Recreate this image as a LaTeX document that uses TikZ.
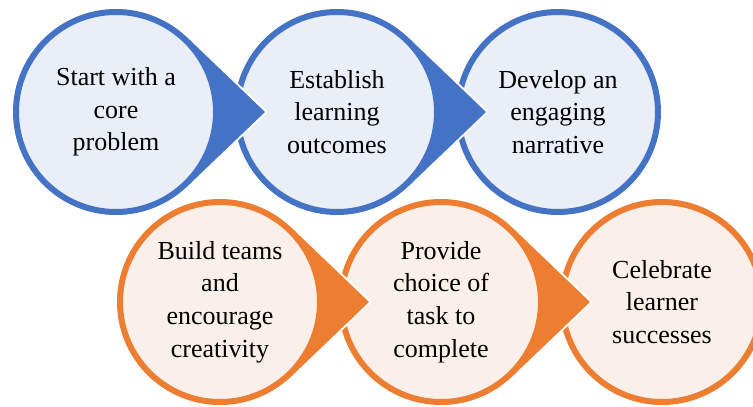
\documentclass[tikz,border=0pt]{standalone}
\usepackage{fontspec}
\setmainfont{Liberation Serif}
\usetikzlibrary{calc}
\definecolor{bstroke}{HTML}{4472C4}
\definecolor{bfill}{HTML}{E9EEF7}
\definecolor{ostroke}{HTML}{ED7D31}
\definecolor{ofill}{HTML}{FBF0E9}
\tikzset{
  bubble/.style={circle, minimum size=200pt, inner sep=0pt, line width=6pt,
    align=center, font=\fontsize{26}{32.7}\selectfont, text=black},
  bluebub/.style={bubble, draw=bstroke, fill=bfill},
  orangebub/.style={bubble, draw=ostroke, fill=ofill},
  halo/.style={draw=white, line width=4pt, line join=miter},
}
% #1 centre coordinate, #2 tip coordinate, #3 colour
\newcommand\mypointer[3]{%
  \draw[halo] ($(#1)+(46.27:103)$) -- (#2) -- ($(#1)+(-46.27:103)$);
  \fill[#3] (#1) -- ($(#1)+(46.27:103)$) -- (#2) -- ($(#1)+(-46.27:103)$) -- cycle;
}
\begin{document}
\begin{tikzpicture}[x=1pt, y=1pt]
  \clip (0,0) rectangle (753,407);
  \fill[white] (0,0) rectangle (753,407);
  % centres and tips
  \coordinate (c1) at (116,295);
  \coordinate (c2) at (337,295);
  \coordinate (c3) at (558,295);
  \coordinate (c4) at (220,105);
  \coordinate (c5) at (441,105);
  \coordinate (c6) at (662,105);
  \coordinate (t1) at ($(c1)+(149,0)$);
  \coordinate (t2) at ($(c2)+(149,0)$);
  \coordinate (t4) at ($(c4)+(149,0)$);
  \coordinate (t5) at ($(c5)+(149,0)$);
  % top row (drawn right to left so pointers lie on top)
  \node[bluebub] (n3) at (c3) {Develop an\\engaging\\narrative};
  \mypointer{c2}{t2}{bstroke}
  \node[bluebub] (n2) at (c2) {Establish\\learning\\outcomes};
  \mypointer{c1}{t1}{bstroke}
  \node[bluebub] (n1) at (c1) {Start with a\\core\\problem};
  % bottom row
  \node[orangebub] (n6) at (c6) {Celebrate\\learner\\successes};
  \mypointer{c5}{t5}{ostroke}
  \node[orangebub] (n5) at (c5) {Provide\\choice of\\task to\\complete};
  \mypointer{c4}{t4}{ostroke}
  \node[orangebub] (n4) at (c4) {Build teams\\and\\encourage\\creativity};
\end{tikzpicture}
\end{document}
